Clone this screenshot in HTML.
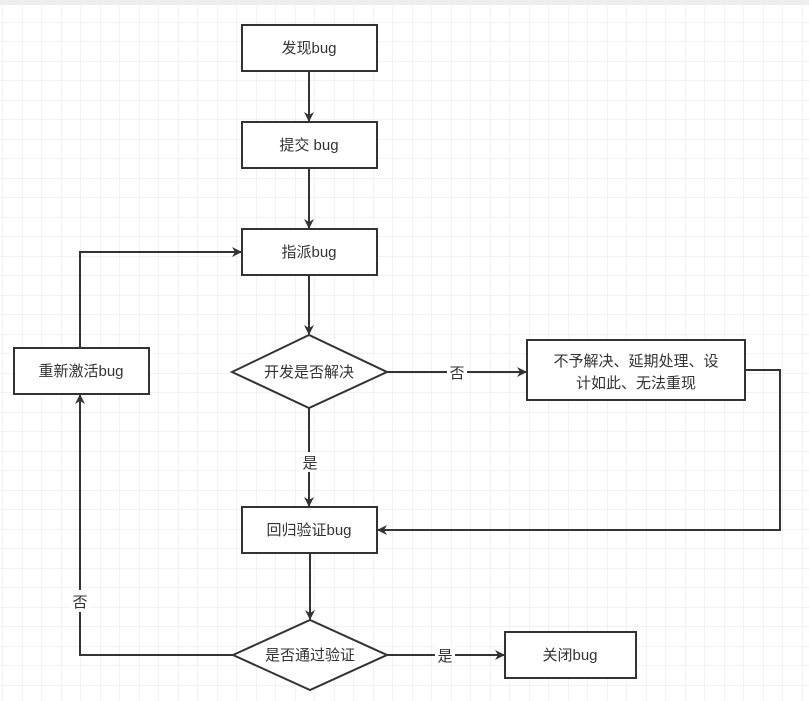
<!DOCTYPE html>
<html><head><meta charset="utf-8"><style>
html,body{margin:0;padding:0;background:#fff}
svg{display:block}
text{font-family:"Liberation Sans","Noto Sans CJK SC",sans-serif;font-size:15px;fill:#333}
</style></head><body>
<svg width="809" height="701" viewBox="0 0 809 701" xmlns="http://www.w3.org/2000/svg">
<defs>
<pattern id="g" width="19.5" height="19.5" patternUnits="userSpaceOnUse" x="3" y="3">
<path d="M19.5 0V19.5H0" fill="none" stroke="#e6e6e6" stroke-width="1"/>
</pattern>
<marker id="a" markerWidth="10" markerHeight="10" refX="9" refY="5" orient="auto" markerUnits="userSpaceOnUse">
<path d="M0 0L10 5L0 10L3 5Z" fill="#333"/>
</marker>
</defs>
<rect width="809" height="701" fill="url(#g)"/>
<rect x="0" y="0" width="809" height="5" fill="#eee"/>
<g fill="#fff" stroke="#333" stroke-width="2">
<rect x="242" y="25" width="135" height="46"/>
<rect x="242" y="122" width="135" height="46"/>
<rect x="242" y="229" width="135" height="46"/>
<polygon points="232,372 309,335 387,372 309,408"/>
<rect x="527" y="340" width="218" height="60"/>
<rect x="242" y="507" width="135" height="46"/>
<polygon points="233,655 310,620 387,655 310,690"/>
<rect x="505" y="632" width="131" height="46"/>
<rect x="14" y="348" width="135" height="46"/>
</g>
<g fill="none" stroke="#333" stroke-width="2">
<line x1="309" y1="71" x2="309" y2="121" marker-end="url(#a)"/>
<line x1="309" y1="168" x2="309" y2="228" marker-end="url(#a)"/>
<line x1="309" y1="275" x2="309" y2="334" marker-end="url(#a)"/>
<line x1="387" y1="372" x2="526" y2="372" marker-end="url(#a)"/>
<polyline points="745,370 780,370 780,530 378,530" marker-end="url(#a)"/>
<line x1="309" y1="408" x2="309" y2="506" marker-end="url(#a)"/>
<line x1="310" y1="553" x2="310" y2="619" marker-end="url(#a)"/>
<line x1="387" y1="655" x2="504" y2="655" marker-end="url(#a)"/>
<polyline points="233,655 80,655 80,395" marker-end="url(#a)"/>
<polyline points="80,348 80,252 241,252" marker-end="url(#a)"/>
</g>
<g text-anchor="middle">
<text x="309" y="53">发现bug</text>
<text x="309" y="150">提交 bug</text>
<text x="309" y="257">指派bug</text>
<text x="309" y="377">开发是否解决</text>
<rect x="447" y="362" width="20" height="20" fill="#fff"/>
<text x="457" y="378">否</text>
<text x="636" y="366">不予解决、延期处理、设</text>
<text x="636" y="388">计如此、无法重现</text>
<rect x="300" y="452" width="20" height="20" fill="#fff"/>
<text x="310" y="468">是</text>
<text x="309" y="535">回归验证bug</text>
<text x="310" y="660">是否通过验证</text>
<rect x="435" y="645" width="20" height="20" fill="#fff"/>
<text x="445" y="661">是</text>
<text x="570" y="660">关闭bug</text>
<text x="81" y="376">重新激活bug</text>
<rect x="70" y="590" width="20" height="22" fill="#fff"/>
<text x="80" y="607">否</text>
</g>
</svg>
</body></html>
